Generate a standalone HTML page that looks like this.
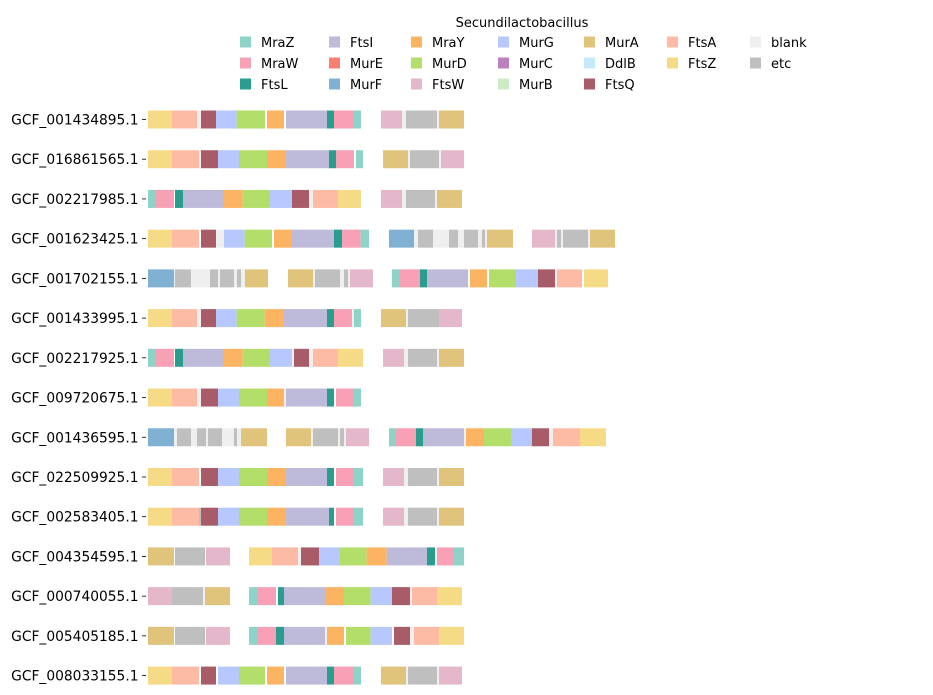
<!DOCTYPE html>
<html><head><meta charset="utf-8">
<style>
html,body{margin:0;padding:0;background:#fff;}
svg{display:block;font-family:"DejaVu Sans","Liberation Sans",sans-serif;}
</style></head>
<body>
<svg id="chart" width="933" height="695" viewBox="0 0 933 695">
<g id="legend"></g>
<g id="rows"></g>
</svg>
<script>
const genomes = ["GCF_001434895.1","GCF_016861565.1","GCF_002217985.1","GCF_001623425.1","GCF_001702155.1","GCF_001433995.1","GCF_002217925.1","GCF_009720675.1","GCF_001436595.1","GCF_022509925.1","GCF_002583405.1","GCF_004354595.1","GCF_000740055.1","GCF_005405185.1","GCF_008033155.1"];
const geneNames = ["MraZ","MraW","FtsL","FtsI","MurE","MurF","MraY","MurD","FtsW","MurG","MurC","MurB","MurA","DdlB","FtsQ","FtsA","FtsZ","blank","etc"];
const geneColors = ["#8dd3c7","#f8a1b6","#2a9d8f","#bebada","#fb8072","#80b1d3","#fdb462","#b3de69","#e4b7cb","#b7c8fe","#bc80bd","#ccebc5","#e0c47c","#c6e9fb","#a85c68","#fdbba6","#f6db86","#efefef","#bfbfbf"];
// segments per genome: [start, end, gene] in position units
const row0 = [[9,81,"FtsZ"],[81,156,"FtsA"],[156,168,"blank"],[168,213,"FtsQ"],[213,275,"MurG"],[275,360,"MurD"],[366,417,"MraY"],[423,546,"FtsI"],[546,567,"FtsL"],[567,627,"MraW"],[627,648,"MraZ"],[708,771,"FtsW"],[771,783,"blank"],[783,876,"etc"],[876,882,"blank"],[882,957,"MurA"]];
const row1 = [[9,81,"FtsZ"],[81,162,"FtsA"],[162,168,"blank"],[168,219,"FtsQ"],[219,282,"MurG"],[282,366,"MurD"],[366,423,"MraY"],[423,552,"FtsI"],[552,573,"FtsL"],[573,627,"MraW"],[633,654,"MraZ"],[714,789,"MurA"],[789,795,"blank"],[795,882,"etc"],[882,888,"blank"],[888,957,"FtsW"]];
const row2 = [[9,33,"MraZ"],[33,87,"MraW"],[90,114,"FtsL"],[114,237,"FtsI"],[237,293,"MraY"],[293,375,"MurD"],[375,441,"MurG"],[441,492,"FtsQ"],[492,504,"blank"],[504,579,"FtsA"],[579,648,"FtsZ"],[708,771,"FtsW"],[771,783,"blank"],[783,870,"etc"],[870,876,"blank"],[876,951,"MurA"]];
const row3 = [[9,81,"FtsZ"],[81,162,"FtsA"],[168,213,"FtsQ"],[213,237,"blank"],[237,299,"MurG"],[299,381,"MurD"],[387,441,"MraY"],[441,567,"FtsI"],[567,591,"FtsL"],[591,647,"MraW"],[647,672,"MraZ"],[732,807,"MurF"],[807,819,"blank"],[819,864,"etc"],[864,912,"blank"],[912,939,"etc"],[939,957,"blank"],[957,999,"etc"],[999,1011,"blank"],[1011,1020,"etc"],[1020,1026,"blank"],[1026,1104,"MurA"],[1161,1230,"FtsW"],[1230,1236,"blank"],[1236,1248,"etc"],[1248,1254,"blank"],[1254,1329,"etc"],[1329,1335,"blank"],[1335,1410,"MurA"]];
const row4 = [[9,87,"MurF"],[87,90,"blank"],[90,138,"etc"],[138,195,"blank"],[195,219,"etc"],[219,225,"blank"],[225,267,"etc"],[267,276,"blank"],[276,288,"etc"],[288,300,"blank"],[300,369,"MurA"],[429,504,"MurA"],[504,510,"blank"],[510,585,"etc"],[585,597,"blank"],[597,609,"etc"],[609,615,"blank"],[615,684,"FtsW"],[741,765,"MraZ"],[765,825,"MraW"],[825,846,"FtsL"],[846,969,"FtsI"],[975,1026,"MraY"],[1032,1113,"MurD"],[1113,1179,"MurG"],[1179,1230,"FtsQ"],[1230,1236,"blank"],[1236,1311,"FtsA"],[1317,1389,"FtsZ"]];
const row5 = [[9,81,"FtsZ"],[81,156,"FtsA"],[156,168,"blank"],[168,213,"FtsQ"],[213,275,"MurG"],[275,359,"MurD"],[359,417,"MraY"],[417,546,"FtsI"],[546,567,"FtsL"],[567,621,"MraW"],[621,627,"blank"],[627,648,"MraZ"],[708,783,"MurA"],[783,789,"blank"],[789,882,"etc"],[882,951,"FtsW"]];
const row6 = [[9,33,"MraZ"],[33,87,"MraW"],[90,114,"FtsL"],[114,237,"FtsI"],[237,293,"MraY"],[293,375,"MurD"],[375,441,"MurG"],[441,447,"blank"],[447,492,"FtsQ"],[492,504,"blank"],[504,579,"FtsA"],[579,654,"FtsZ"],[714,777,"FtsW"],[777,789,"blank"],[789,876,"etc"],[876,882,"blank"],[882,957,"MurA"]];
const row7 = [[9,81,"FtsZ"],[81,156,"FtsA"],[156,168,"blank"],[168,219,"FtsQ"],[219,282,"MurG"],[282,366,"MurD"],[366,417,"MraY"],[417,423,"blank"],[423,546,"FtsI"],[546,567,"FtsL"],[573,627,"MraW"],[627,648,"MraZ"]];
const row8 = [[9,87,"MurF"],[87,96,"blank"],[96,138,"etc"],[138,156,"blank"],[156,183,"etc"],[183,189,"blank"],[189,231,"etc"],[231,267,"blank"],[267,276,"etc"],[276,288,"blank"],[288,366,"MurA"],[423,498,"MurA"],[498,504,"blank"],[504,579,"etc"],[579,585,"blank"],[585,597,"etc"],[597,603,"blank"],[603,672,"FtsW"],[732,753,"MraZ"],[753,813,"MraW"],[813,834,"FtsL"],[834,957,"FtsI"],[957,963,"blank"],[963,1017,"MraY"],[1017,1098,"MurD"],[1098,1161,"MurG"],[1161,1212,"FtsQ"],[1212,1224,"blank"],[1224,1305,"FtsA"],[1305,1383,"FtsZ"]];
const row9 = [[9,81,"FtsZ"],[81,162,"FtsA"],[168,219,"FtsQ"],[219,282,"MurG"],[282,366,"MurD"],[366,423,"MraY"],[423,546,"FtsI"],[546,567,"FtsL"],[573,627,"MraW"],[627,654,"MraZ"],[714,777,"FtsW"],[777,789,"blank"],[789,876,"etc"],[876,882,"blank"],[882,957,"MurA"]];
const row10 = [[9,81,"FtsZ"],[81,162,"FtsA"],[162,168,"etc"],[168,219,"FtsQ"],[219,282,"MurG"],[282,366,"MurD"],[366,423,"MraY"],[423,552,"FtsI"],[552,567,"FtsL"],[573,627,"MraW"],[627,654,"MraZ"],[714,777,"FtsW"],[777,789,"blank"],[789,876,"etc"],[876,882,"blank"],[882,957,"MurA"]];
const row11 = [[9,87,"MurA"],[90,180,"etc"],[183,255,"FtsW"],[312,381,"FtsZ"],[381,459,"FtsA"],[459,468,"blank"],[468,522,"FtsQ"],[522,585,"MurG"],[585,665,"MurD"],[665,725,"MraY"],[725,846,"FtsI"],[846,870,"FtsL"],[870,876,"blank"],[876,927,"MraW"],[927,957,"MraZ"]];
const row12 = [[9,81,"FtsW"],[81,174,"etc"],[174,180,"blank"],[180,255,"MurA"],[312,336,"MraZ"],[336,393,"MraW"],[399,417,"FtsL"],[417,540,"FtsI"],[540,597,"MraY"],[597,677,"MurD"],[677,741,"MurG"],[741,795,"FtsQ"],[795,801,"blank"],[801,876,"FtsA"],[876,951,"FtsZ"]];
const row13 = [[9,87,"MurA"],[90,180,"etc"],[183,255,"FtsW"],[312,336,"MraZ"],[336,393,"MraW"],[393,417,"FtsL"],[417,540,"FtsI"],[540,546,"blank"],[546,597,"MraY"],[603,677,"MurD"],[677,741,"MurG"],[747,795,"FtsQ"],[795,807,"blank"],[807,882,"FtsA"],[882,957,"FtsZ"]];
const row14 = [[9,81,"FtsZ"],[81,162,"FtsA"],[168,213,"FtsQ"],[219,282,"MurG"],[282,360,"MurD"],[366,417,"MraY"],[423,546,"FtsI"],[546,567,"FtsL"],[567,627,"MraW"],[627,648,"MraZ"],[708,783,"MurA"],[783,789,"blank"],[789,876,"etc"],[876,882,"blank"],[882,951,"FtsW"]];
const rowSegments = [row0,row1,row2,row3,row4,row5,row6,row7,row8,row9,row10,row11,row12,row13,row14];

const NS = "http://www.w3.org/2000/svg";
function xScale(v){ return 145 + v/3; }
function yScale(i){ return 119.5 + i*39.72; }
function colorOf(g){ return geneColors[geneNames.indexOf(g)]; }
function mk(tag, attrs, parent){ const e=document.createElementNS(NS,tag); for(const k in attrs) e.setAttribute(k,attrs[k]); parent.appendChild(e); return e; }

const rowsG = document.getElementById('rows');
genomes.forEach((name,i)=>{
  const cy = yScale(i);
  const g = mk('g',{},rowsG);
  
  
  const lab = mk('text',{x:138.5,y:cy+5,'text-anchor':'end','font-size':13.8,fill:'#000'},g);
  lab.textContent = name;
  
  
  const tick = mk('line',{x1:142,x2:146,y1:cy,y2:cy,stroke:'#000','stroke-width':0.8},g);
  
  
  rowSegments[i].forEach(s=>{
    const x0 = xScale(s[0]), x1 = xScale(s[1]);
    const r = mk('rect',{x:x0,y:cy-9,width:x1-x0,height:18,fill:colorOf(s[2])},g);
    
    
  });
});

// legend (column-major; first 5 columns have 3 entries, last 2 have 2)
const legG = document.getElementById('legend');
const title = mk('text',{x:522,y:27,'text-anchor':'middle','font-size':13,fill:'#000'},legG);
title.textContent = 'Secundilactobacillus';


const colX = [240,329,411,498,584,667,750];
geneNames.forEach((gname,k)=>{
  let col, rr;
  if (k < 15) { col = Math.floor(k/3); rr = k%3; }
  else { col = 5 + Math.floor((k-15)/2); rr = (k-15)%2; }
  const px = colX[col], py = 42 + rr*21;
  const e = mk('g',{},legG);
  
  
  mk('rect',{x:px,y:py-5.5,width:11,height:11,fill:geneColors[k]},e);
  const t = mk('text',{x:px+21,y:py+5,'font-size':13,fill:'#000'},e);
  t.textContent = gname;
});
</script>
</body></html>
